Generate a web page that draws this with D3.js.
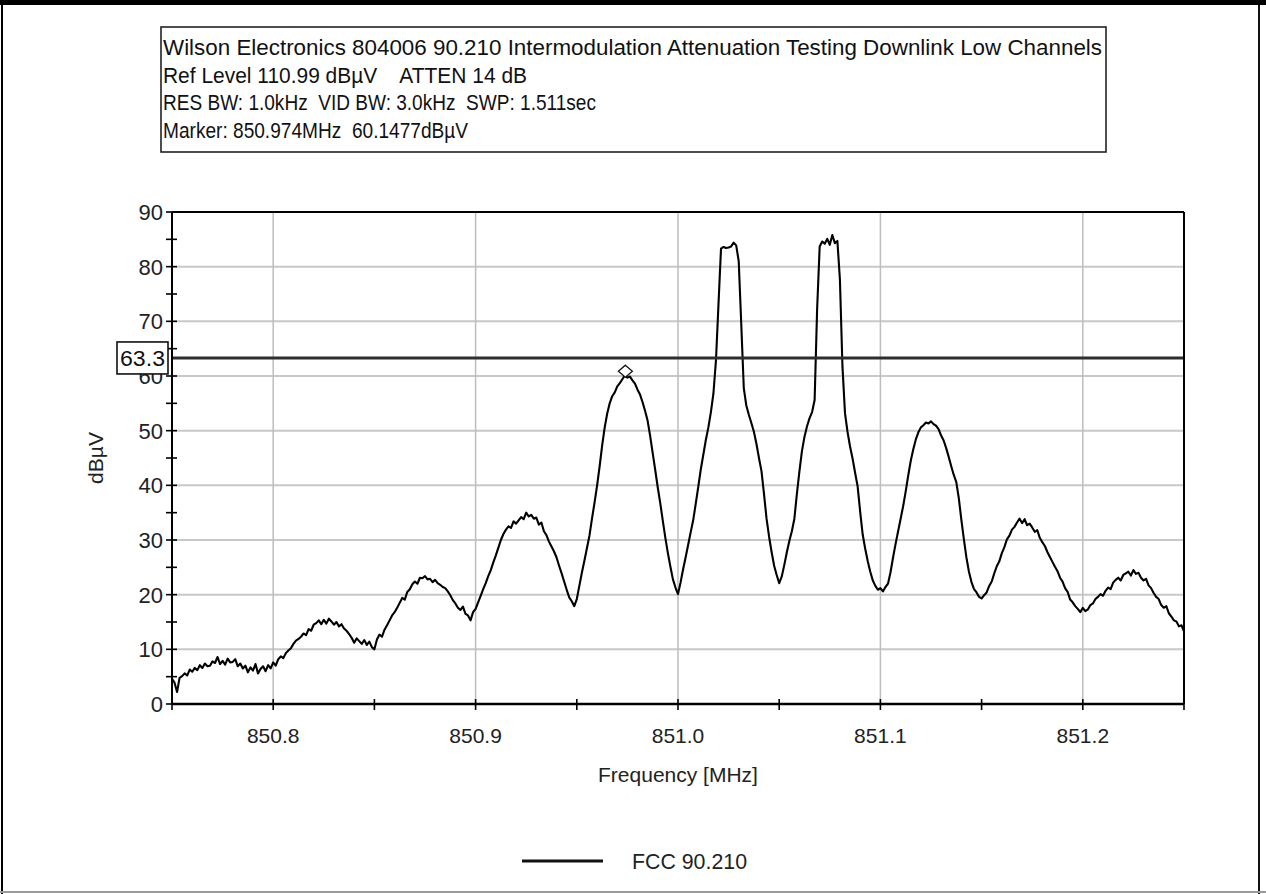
<!DOCTYPE html>
<html><head><meta charset="utf-8">
<script src="https://cdn.jsdelivr.net/npm/d3@7"></script>
<style>
html,body{margin:0;padding:0;background:#fff;}
svg{display:block;font-family:"Liberation Sans",Arial,sans-serif;}
</style></head><body>
<svg id="chart" width="1266" height="894"></svg>
<script>
// Analyzer annotation block
const headerLines = [
  "Wilson Electronics 804006 90.210 Intermodulation Attenuation Testing Downlink Low Channels",
  "Ref Level 110.99 dB\u00B5V    ATTEN 14 dB",
  "RES BW: 1.0kHz  VID BW: 3.0kHz  SWP: 1.511sec",
  "Marker: 850.974MHz  60.1477dB\u00B5V"
];
const headerWidths = [939, 364, 433, 305];

// Sweep span (MHz) and measured trace levels (dBuV), one per sweep point
const sweepStartMHz = 850.75;
const sweepStopMHz = 851.25;
const traceLevels = [
  4.6, 3.9, 2.2, 4.8, 5.1, 5.6, 5.2, 6.3, 5.9, 6.6,
  6.2, 7.1, 6.6, 7.4, 6.9, 7.0, 7.8, 7.5, 8.6, 7.3,
  7.9, 7.2, 8.3, 7.6, 7.7, 8.2, 6.9, 7.4, 6.5, 7.0,
  5.8, 6.7, 6.1, 7.3, 5.6, 6.4, 6.9, 6.0, 7.1, 6.5,
  7.6, 7.0, 8.2, 8.7, 8.4, 9.3, 9.8, 10.2, 11.0, 11.6,
  11.9, 12.3, 12.9, 12.6, 13.7, 13.4, 14.5, 14.8, 15.3, 14.6,
  15.4, 14.7, 15.6, 15.1, 14.5, 15.0, 14.2, 14.6, 13.8, 13.4,
  12.8, 12.1, 11.2, 12.0, 11.5, 11.0, 11.7, 10.8, 11.4, 10.4,
  10.0, 11.8, 12.7, 12.3, 13.6, 14.4, 15.3, 16.2, 16.8, 17.6,
  18.5, 19.4, 19.1, 20.5, 21.0, 21.9, 22.4, 22.0, 23.1, 23.0,
  23.4, 22.8, 22.9, 22.3, 22.7, 22.1, 21.8, 21.4, 21.2, 20.6,
  19.9, 19.0, 18.4, 17.6, 17.2, 17.8, 16.5, 16.2, 15.3, 16.8,
  17.4, 18.6, 19.8, 21.0, 22.1, 23.4, 24.5, 25.9, 27.2, 28.6,
  30.0, 31.1, 31.9, 32.5, 32.2, 33.4, 33.0, 33.6, 34.2, 33.8,
  35.0, 34.3, 34.6, 33.9, 34.1, 32.8, 33.2, 31.6, 30.9, 29.7,
  28.8, 27.9, 26.8, 25.3, 23.9, 22.4, 20.9, 19.5, 18.8, 17.9,
  19.2, 21.6, 24.0, 26.2, 28.5, 30.8, 33.9, 36.8, 39.9, 43.4,
  47.2, 50.5, 53.1, 55.0, 56.3, 57.0, 58.1, 58.7, 59.4, 60.1,
  59.7, 59.9, 59.2, 58.6, 57.5, 56.6, 55.2, 53.6, 51.8, 49.0,
  45.9, 42.8, 39.6, 36.7, 33.5, 30.4, 27.6, 25.1, 22.8, 21.3,
  20.1, 22.2, 24.6, 26.8, 29.1, 31.4, 33.6, 36.6, 39.7, 42.9,
  45.6, 48.3, 50.6, 53.4, 56.8, 62.8, 73.1, 83.3, 83.6, 83.4,
  83.5, 83.7, 84.4, 83.9, 81.0, 69.5, 57.8, 54.6, 52.9, 51.4,
  49.8, 47.6, 45.0, 42.6, 38.4, 33.9, 30.6, 27.8, 25.3, 23.6,
  22.1, 23.3, 25.4, 27.7, 29.8, 31.6, 33.9, 38.5, 42.6, 46.3,
  48.9, 50.8, 52.3, 53.4, 55.6, 72.4, 83.7, 84.6, 84.2, 85.1,
  84.0, 85.8, 84.3, 84.7, 77.6, 61.8, 53.2, 49.8, 47.1, 44.9,
  42.3, 39.8, 35.2, 31.0, 28.4, 26.1, 24.2, 22.6, 21.6, 20.9,
  21.2, 20.6, 21.4, 22.0, 24.1, 26.8, 29.3, 31.6, 33.9, 36.2,
  38.9, 41.8, 44.5, 46.6, 48.4, 49.7, 50.6, 51.0, 51.5, 51.3,
  51.7, 51.2, 50.9, 50.3, 49.1, 48.2, 46.8, 45.2, 43.5, 41.9,
  40.6, 37.6, 33.7, 30.1, 26.8, 24.2, 22.3, 21.0, 20.4, 19.6,
  19.3, 19.9, 20.4, 21.6, 22.4, 23.9, 25.2, 26.1, 27.6, 28.7,
  30.1, 30.8, 31.9, 32.4, 33.2, 33.9, 33.1, 33.8, 32.7, 33.0,
  32.3, 31.5, 31.8, 30.4, 29.6, 28.9, 27.8, 26.9, 26.0, 25.1,
  24.3, 23.1, 22.4, 21.2, 20.5, 19.1, 18.6, 17.9, 17.4, 16.8,
  17.6, 17.0, 17.3, 18.1, 18.4, 19.2, 19.6, 20.1, 19.8, 20.7,
  21.3, 21.0, 22.2, 22.7, 23.1, 22.6, 23.6, 23.9, 24.2, 23.5,
  24.5, 23.8, 24.0, 23.1, 22.6, 22.9, 21.7, 21.2, 20.3, 19.6,
  19.2, 18.1, 17.6, 17.9, 16.6, 16.0, 15.3, 15.1, 14.2, 14.4, 13.3
];

// Axis ticks
const freqTicks = [850.8, 850.9, 851.0, 851.1, 851.2];
const freqTickLabels = ["850.8", "850.9", "851.0", "851.1", "851.2"];
const freqMinorTicks = [850.75, 850.85, 850.95, 851.05, 851.15, 851.25];
const levelTicks = [0, 10, 20, 30, 40, 50, 60, 70, 80, 90];
const levelMinorTicks = [5, 15, 25, 35, 45, 55, 65, 75, 85];

// Limit line and marker
const limitLevel = 63.3;
const limitLabel = "63.3";
const markerFreqMHz = 850.974;
const markerLevel = 60.1477;

const xTitle = "Frequency [MHz]";
const yTitle = "dB\u00B5V";
const legendLabel = "FCC 90.210";

const svg = d3.select("#chart");
const W = 1266, H = 894;
const plot = {left: 172, right: 1184, top: 212, bottom: 704};

const x = d3.scaleLinear().domain([sweepStartMHz, sweepStopMHz]).range([plot.left, plot.right]);
const y = d3.scaleLinear().domain([0, 90]).range([plot.bottom, plot.top]);

// Page frame
svg.append("rect").attr("x", 0).attr("y", 0).attr("width", W).attr("height", H).attr("fill", "#fff");
svg.append("line").attr("x1", 2).attr("x2", 2).attr("y1", 0).attr("y2", H).attr("stroke", "#000").attr("stroke-width", 2);
svg.append("line").attr("x1", 1259).attr("x2", 1259).attr("y1", 0).attr("y2", H).attr("stroke", "#111").attr("stroke-width", 2);
svg.append("line").attr("x1", 0).attr("x2", W).attr("y1", 892).attr("y2", 892).attr("stroke", "#9a9a9a").attr("stroke-width", 2);
svg.append("rect").attr("x", 0).attr("y", 0).attr("width", W).attr("height", 5).attr("fill", "#000");

// Annotation box
const hdr = svg.append("g");
hdr.append("rect").attr("x", 161).attr("y", 27).attr("width", 945).attr("height", 125)
  .attr("fill", "#fff").attr("stroke", "#222").attr("stroke-width", 1.6);
hdr.selectAll("text").data(headerLines).join("text")
  .attr("x", 163)
  .attr("y", (d, i) => 55 + i * 27.5)
  .attr("font-size", 22)
  .attr("fill", "#111")
  .style("white-space", "pre")
  .attr("textLength", (d, i) => headerWidths[i])
  .attr("lengthAdjust", "spacingAndGlyphs")
  .text(d => d);

// Grid
const grid = svg.append("g");
grid.selectAll("line.h").data(levelTicks.filter(v => v > 0 && v < 90)).join("line")
  .attr("class", "h")
  .attr("x1", plot.left).attr("x2", plot.right)
  .attr("y1", d => y(d)).attr("y2", d => y(d))
  .attr("stroke", "#c8c8c8").attr("stroke-width", 2);
grid.selectAll("line.v").data(freqTicks).join("line")
  .attr("class", "v")
  .attr("x1", d => x(d)).attr("x2", d => x(d))
  .attr("y1", plot.top).attr("y2", plot.bottom)
  .attr("stroke", "#bdbdbd").attr("stroke-width", 1.5);

// Trace
const step = (sweepStopMHz - sweepStartMHz) / (traceLevels.length - 1);
const line = d3.line()
  .x((d, i) => x(sweepStartMHz + i * step))
  .y(d => y(d));
svg.append("path").datum(traceLevels)
  .attr("d", line)
  .attr("fill", "none")
  .attr("stroke", "#000")
  .attr("stroke-width", 2.1)
  .attr("stroke-linejoin", "round");

// Limit line
svg.append("line")
  .attr("x1", plot.left).attr("x2", plot.right)
  .attr("y1", y(limitLevel)).attr("y2", y(limitLevel))
  .attr("stroke", "#2e2e2e").attr("stroke-width", 3);

// Plot frame and axes
const axes = svg.append("g").attr("stroke", "#000");
axes.append("line").attr("x1", plot.left).attr("x2", plot.right).attr("y1", plot.top).attr("y2", plot.top).attr("stroke-width", 2);
axes.append("line").attr("x1", plot.right).attr("x2", plot.right).attr("y1", plot.top).attr("y2", plot.bottom).attr("stroke-width", 2);
axes.append("line").attr("x1", plot.left).attr("x2", plot.left).attr("y1", plot.top).attr("y2", plot.bottom).attr("stroke-width", 2);
axes.append("line").attr("x1", plot.left).attr("x2", plot.right).attr("y1", plot.bottom).attr("y2", plot.bottom).attr("stroke-width", 2.5);

axes.selectAll("line.yt").data(levelTicks.concat(levelMinorTicks)).join("line")
  .attr("class", "yt")
  .attr("x1", plot.left - 6).attr("x2", plot.left + 5)
  .attr("y1", d => y(d)).attr("y2", d => y(d))
  .attr("stroke-width", 1.6);
axes.selectAll("line.xt").data(freqTicks.concat(freqMinorTicks)).join("line")
  .attr("class", "xt")
  .attr("x1", d => x(d)).attr("x2", d => x(d))
  .attr("y1", plot.bottom - 5).attr("y2", plot.bottom + 6)
  .attr("stroke-width", 1.6);

// Tick labels
svg.append("g").selectAll("text").data(levelTicks).join("text")
  .attr("x", plot.left - 9)
  .attr("y", d => y(d) + 8)
  .attr("text-anchor", "end")
  .attr("font-size", 22)
  .attr("fill", "#222")
  .text(d => d);
svg.append("g").selectAll("text").data(freqTicks).join("text")
  .attr("x", d => x(d))
  .attr("y", 743)
  .attr("text-anchor", "middle")
  .attr("font-size", 21)
  .attr("fill", "#222")
  .text((d, i) => freqTickLabels[i]);

// Limit value tag (sits over the level scale, as on the analyzer)
const tagY = y(limitLevel);
svg.append("rect").attr("x", 117).attr("y", tagY - 16).attr("width", 51).attr("height", 32)
  .attr("fill", "#fff").attr("stroke", "#111").attr("stroke-width", 1.6);
svg.append("text").attr("x", 142.5).attr("y", tagY + 8)
  .attr("text-anchor", "middle").attr("font-size", 22).attr("fill", "#111")
  .attr("textLength", 45).attr("lengthAdjust", "spacingAndGlyphs")
  .text(limitLabel);

// Marker
const mx = x(markerFreqMHz), my = y(markerLevel) - 4;
svg.append("path")
  .attr("d", `M${mx},${my - 6}L${mx + 7},${my}L${mx},${my + 6}L${mx - 7},${my}Z`)
  .attr("fill", "#fff").attr("stroke", "#111").attr("stroke-width", 1.3);

// Axis titles
svg.append("text")
  .attr("transform", `translate(${96},${(plot.top + plot.bottom) / 2}) rotate(-90)`)
  .attr("text-anchor", "middle").attr("dy", "0.35em")
  .attr("font-size", 21).attr("fill", "#222")
  .text(yTitle);
svg.append("text")
  .attr("x", x(851.0)).attr("y", 782)
  .attr("text-anchor", "middle").attr("font-size", 21).attr("fill", "#222")
  .text(xTitle);

// Legend
svg.append("line").attr("x1", 522).attr("x2", 603).attr("y1", 861).attr("y2", 861)
  .attr("stroke", "#111").attr("stroke-width", 3);
svg.append("text").attr("x", 632).attr("y", 869)
  .attr("font-size", 22).attr("fill", "#222")
  .attr("textLength", 115).attr("lengthAdjust", "spacingAndGlyphs")
  .text(legendLabel);
</script>
</body></html>
